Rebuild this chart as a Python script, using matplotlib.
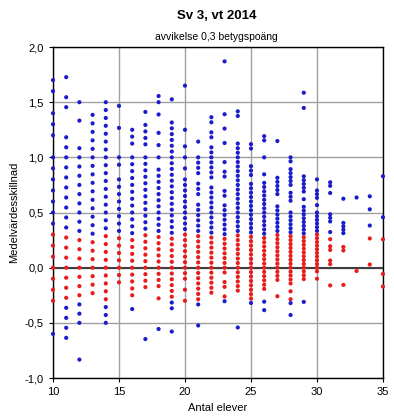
import matplotlib
matplotlib.use("Agg")
import matplotlib.pyplot as plt
from matplotlib.ticker import FuncFormatter

plt.rcParams['font.family'] = ['Liberation Sans', 'DejaVu Sans']

# Medelvärdesskillnad per antal elever
n10 = [1.7, 1.6, 1.4, 1.3, 1.2, 1.0, 0.9, 0.8, 0.7, 0.6, 0.5, 0.4, 0.3, 0.2, 0.1, 0.0,
       -0.1, -0.2, -0.3, -0.6]
n11 = [1.727, 1.545, 1.455, 1.182, 1.091, 1.0, 0.909, 0.818, 0.727, 0.636, 0.545, 0.455,
       0.364, 0.273, 0.182, 0.091, 0.0, -0.091, -0.182, -0.273, -0.364, -0.455, -0.545, -0.636]
n12 = [1.5, 1.333, 1.083, 1.0, 0.917, 0.833, 0.75, 0.667, 0.583, 0.5, 0.417, 0.333, 0.25,
       0.167, 0.083, 0.0, -0.083, -0.167, -0.25, -0.333, -0.417, -0.5, -0.833]
n13 = [1.385, 1.308, 1.231, 1.154, 1.077, 1.0, 0.923, 0.846, 0.769, 0.692, 0.615, 0.538,
       0.462, 0.385, 0.308, 0.231, 0.154, 0.077, 0.0, -0.077, -0.154, -0.231]
n14 = [1.5, 1.429, 1.357, 1.286, 1.214, 1.143, 1.071, 1.0, 0.929, 0.857, 0.786, 0.714,
       0.643, 0.571, 0.5, 0.429, 0.357, 0.286, 0.214, 0.143, 0.071, 0.0, -0.071, -0.143,
       -0.214, -0.286, -0.357, -0.429, -0.5]
n15 = [1.467, 1.267, 1.0, 0.933, 0.8, 0.733, 0.667, 0.6, 0.533, 0.467, 0.4, 0.333, 0.267,
       0.2, 0.133, 0.067, 0.0, -0.067, -0.133]
n16 = [1.25, 1.188, 1.125, 1.0, 0.938, 0.875, 0.813, 0.75, 0.688, 0.625, 0.563, 0.5, 0.438,
       0.375, 0.313, 0.25, 0.188, 0.125, 0.063, 0.0, -0.063, -0.125, -0.188, -0.25, -0.375]
n17 = [1.412, 1.294, 1.235, 1.176, 1.118, 1.0, 0.941, 0.882, 0.824, 0.765, 0.706, 0.647,
       0.588, 0.529, 0.471, 0.412, 0.353, 0.294, 0.235, 0.176, 0.118, 0.059, 0.0, -0.059,
       -0.118, -0.176, -0.647]
n18 = [1.556, 1.5, 1.389, 1.222, 1.111, 1.0, 0.889, 0.833, 0.778, 0.722, 0.667, 0.611,
       0.556, 0.5, 0.444, 0.389, 0.333, 0.278, 0.222, 0.167, 0.111, 0.056, 0.0, -0.056,
       -0.111, -0.167, -0.278, -0.556]
n19 = [1.526, 1.316, 1.263, 1.211, 1.158, 1.105, 1.053, 1.0, 0.947, 0.895, 0.842, 0.789,
       0.737, 0.684, 0.632, 0.579, 0.526, 0.474, 0.421, 0.368, 0.316, 0.263, 0.211, 0.158,
       0.105, 0.053, 0.0, -0.053, -0.105, -0.158, -0.211, -0.263, -0.316, -0.368, -0.579]
n20 = [1.65, 1.25, 1.1, 1.0, 0.9, 0.8, 0.75, 0.7, 0.65, 0.6, 0.55, 0.5, 0.45, 0.4, 0.35,
       0.3, 0.25, 0.2, 0.15, 0.1, 0.05, 0.0, -0.05, -0.1, -0.2, -0.3]
n21 = [1.143, 1.0, 0.952, 0.905, 0.857, 0.762, 0.714, 0.667, 0.571, 0.524, 0.476, 0.429,
       0.381, 0.333, 0.286, 0.238, 0.19, 0.143, 0.095, 0.048, 0.0, -0.048, -0.095, -0.143,
       -0.19, -0.238, -0.286, -0.333, -0.524]
n22 = [1.364, 1.318, 1.227, 1.182, 1.091, 1.045, 1.0, 0.955, 0.909, 0.864, 0.818, 0.727,
       0.682, 0.636, 0.591, 0.545, 0.5, 0.455, 0.409, 0.364, 0.318, 0.273, 0.227, 0.182,
       0.136, 0.091, 0.045, 0.0, -0.045, -0.091, -0.136, -0.182, -0.227]
n23 = [1.87, 1.391, 1.261, 1.13, 0.957, 0.87, 0.826, 0.696, 0.652, 0.565, 0.522, 0.478,
       0.435, 0.391, 0.348, 0.304, 0.261, 0.217, 0.174, 0.13, 0.087, 0.043, 0.0, -0.043,
       -0.13, -0.174, -0.261, -0.304]
n24 = [1.417, 1.375, 1.125, 1.083, 1.042, 1.0, 0.958, 0.917, 0.875, 0.833, 0.792, 0.75,
       0.708, 0.667, 0.625, 0.583, 0.542, 0.5, 0.458, 0.417, 0.375, 0.333, 0.292, 0.25,
       0.208, 0.167, 0.125, 0.083, 0.042, 0.0, -0.042, -0.083, -0.125, -0.167, -0.208, -0.542]
n25 = [1.12, 1.08, 0.92, 0.88, 0.84, 0.76, 0.72, 0.68, 0.64, 0.6, 0.56, 0.52, 0.48, 0.44,
       0.4, 0.36, 0.32, 0.28, 0.24, 0.2, 0.16, 0.12, 0.08, 0.04, 0.0, -0.04, -0.08, -0.12,
       -0.16, -0.2, -0.24, -0.28, -0.32]
n26 = [1.192, 1.154, 1.0, 0.846, 0.769, 0.731, 0.692, 0.654, 0.615, 0.577, 0.538, 0.5,
       0.462, 0.423, 0.385, 0.346, 0.308, 0.269, 0.231, 0.192, 0.154, 0.115, 0.077, 0.038,
       0.0, -0.038, -0.077, -0.115, -0.154, -0.192, -0.308, -0.385]
n27 = [1.148, 0.815, 0.778, 0.741, 0.704, 0.667, 0.556, 0.519, 0.481, 0.444, 0.407, 0.37,
       0.333, 0.296, 0.259, 0.222, 0.185, 0.148, 0.111, 0.074, 0.037, 0.0, -0.037, -0.074,
       -0.111, -0.259]
n28 = [1.0, 0.964, 0.893, 0.857, 0.821, 0.786, 0.75, 0.679, 0.643, 0.607, 0.5, 0.464,
       0.429, 0.393, 0.357, 0.321, 0.286, 0.25, 0.214, 0.179, 0.143, 0.107, 0.071, 0.036,
       0.0, -0.036, -0.071, -0.107, -0.143, -0.214, -0.286, -0.321, -0.429]
n29 = [1.586, 1.448, 0.828, 0.793, 0.759, 0.724, 0.69, 0.621, 0.552, 0.517, 0.483, 0.448,
       0.414, 0.379, 0.345, 0.31, 0.276, 0.241, 0.207, 0.172, 0.138, 0.103, 0.069, 0.034,
       0.0, -0.034, -0.069, -0.103, -0.31]
n30 = [0.8, 0.7, 0.667, 0.633, 0.567, 0.5, 0.467, 0.433, 0.4, 0.367, 0.333, 0.3, 0.267,
       0.233, 0.2, 0.167, 0.133, 0.1, 0.067, 0.033, 0.0, -0.033, -0.1]
n31 = [0.774, 0.742, 0.677, 0.484, 0.452, 0.419, 0.323, 0.258, 0.194, 0.161, 0.065, 0.032,
       -0.161]
n32 = [0.625, 0.406, 0.375, 0.344, 0.313, 0.188, 0.156, -0.156]
n33 = [0.636, -0.03]
n34 = [0.647, 0.529, 0.382, 0.265, 0.029]
n35 = [0.829, 0.457, 0.257, -0.057, -0.171]

antal = list(range(10, 36))
skillnader = [n10, n11, n12, n13, n14, n15, n16, n17, n18, n19, n20, n21, n22, n23, n24,
              n25, n26, n27, n28, n29, n30, n31, n32, n33, n34, n35]
avvikelse = 0.3

xs, ys, cs = [], [], []
for n, vals in zip(antal, skillnader):
    for v in vals:
        xs.append(n)
        ys.append(v)
        cs.append('#e81c1c' if abs(v) <= avvikelse + 1e-9 else '#1c1ccc')

fig = plt.figure(figsize=(3.94, 4.2), dpi=100)
ax = fig.add_axes([0.1345, 0.1, 0.8375, 0.788])

ax.set_xlim(10, 35)
ax.set_ylim(-1.0, 2.0)
ax.set_xticks(range(10, 36, 5))
ax.set_yticks([-1.0, -0.5, 0.0, 0.5, 1.0, 1.5, 2.0])
ax.yaxis.set_major_formatter(FuncFormatter(lambda v, p: f"{v:.1f}".replace('.', ',')))
ax.grid(True, color='#a0a0a0', linewidth=1.0)
ax.set_axisbelow(True)
ax.axhline(0, color='#404040', linewidth=1.5, zorder=1)

ax.scatter(xs, ys, c=cs, s=9, linewidths=0, zorder=3, clip_on=False)

for sp in ax.spines.values():
    sp.set_color('black')
    sp.set_linewidth(1.0)
ax.tick_params(direction='out', length=3, labelsize=8, colors='black')

ax.set_xlabel("Antal elever", fontsize=8, labelpad=4)
ax.set_ylabel("Medelvärdesskillnad", fontsize=8, labelpad=4)
fig.text(0.55, 0.963, "Sv 3, vt 2014", ha='center', va='center', fontsize=9.5,
         fontweight='bold')
fig.text(0.55, 0.912, "avvikelse 0,3 betygspoäng", ha='center', va='center', fontsize=7.5)

fig.savefig("out.png", dpi=100)
